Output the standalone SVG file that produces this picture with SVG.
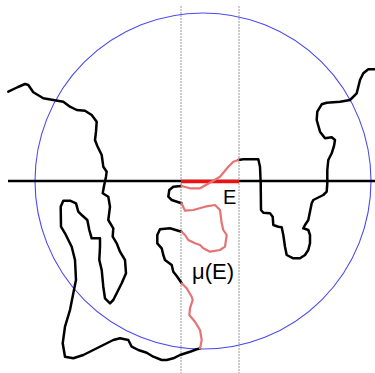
<svg xmlns="http://www.w3.org/2000/svg" width="375" height="373" viewBox="0 0 375 373">
<style>
.bk{fill:none;stroke:#000;stroke-width:2.5;stroke-linejoin:round;stroke-linecap:round}
.pk{fill:none;stroke:#e57373;stroke-width:2.2;stroke-linejoin:round;stroke-linecap:round}
.dash{stroke:#999;stroke-width:1;stroke-dasharray:2 1}
.lbl{font-family:"Liberation Sans",Arial,sans-serif;font-size:20px;fill:#000}
</style>
<rect width="375" height="373" fill="#fff"/>
<g id="circle"><circle cx="203" cy="181" r="168" fill="none" stroke="#4a4af0" stroke-width="1.1"/></g>
<g id="strip">
<line class="dash" x1="181" y1="6" x2="181" y2="373"/>
<line class="dash" x1="239" y1="6" x2="239" y2="373"/>
</g>
<g id="axis">
<line x1="8" y1="181" x2="375" y2="181" stroke="#000" stroke-width="2.5"/>
</g>
<g id="curve">
<path class="bk" d="M8.3,91.7 L18,87 L25,84 L28.3,85 L33.3,92.3 L43.3,98.3 L53.3,100 L63.3,101.7 L70,106.7 L76.7,110 L85,110.7 L91.7,115 L96.7,121.7 L96,131.7 L95,140 L97.3,146 L101.7,155 L103.3,166.7 L106.7,171.7 L106,176.7 L104,186 L102.7,193.3 L108.3,196.7 L110,206.7 L108.3,220 L113.3,228.3 L112.7,236.7 L116.7,243.3 L120,251.7 L125,260 L126,273.3 L121.7,283.3 L113.3,300 L110,303.3 L105,298.3 L103.3,286.7 L101.7,270 L99.3,260 L100,246.7 L100,238.3 L91.7,238.3 L89.3,230 L87.3,220 L81.7,215 L78.3,211.7 L76,203.3 L70,200.7 L63.3,200.7 L60.7,206.7 L61,226.7 L65,233.3 L71.7,246.7 L75,260 L76,280 L73.3,293.3 L70,310 L65,326.7 L62.7,343.3 L65,356.7 L73.3,358.3 L83.3,355 L93.3,350 L103.3,345 L113.3,340 L120,338.3 L128.3,340 L131.7,346.7 L138.3,350 L146.7,352.7 L153.3,356.7 L161.7,360 L166.7,360 L173.3,358.3 L180,355 L190,351.7 L196.7,349.3 L200,348.5"/>
<path class="bk" d="M181.5,186 L173.3,186.7 L169.3,190 L168.3,196.7 L171.7,200 L181.5,203.3"/>
<path class="bk" d="M181.5,231.7 L170,228.3 L160,229.3 L157.3,235 L157.3,243.3 L161.7,248.3 L163.3,255 L165,260 L171.7,265 L173.3,271.7 L176.7,276 L180,280.7 L181.7,283.3"/>
<path class="bk" d="M238.3,160 L243.3,159.3 L258.3,159.3 L260,166.7 L260.7,183.3 L261,210 L263.3,212.7 L270,213.3 L272.7,216.7 L273.3,225 L278.3,226.7 L281.7,227.3 L283.3,235 L285,246.7 L286.7,255 L293.3,258.3 L300,258.3 L305,255 L308.3,250 L310,243.3 L310,235 L308.3,230 L303.3,228.3 L305,225 L308.3,220 L311.7,203.3 L313.3,200 L323.3,195 L326.7,191.7 L327.3,183.3 L327.3,170 L328.3,160 L331.7,153.3 L334,146 L335,140 L331.7,137.3 L325,138.3 L320,131.7 L316.7,120 L317.3,111.7 L321.7,104.3 L326.7,102.7 L340,101.7 L350,100 L356.7,93.3 L360,80 L363.3,73.3 L368.3,69.3 L375,69.3"/>
</g>
<g id="E-set">
<line x1="181" y1="181.5" x2="239" y2="181.5" stroke="#ee1111" stroke-width="3.5"/>
<path class="pk" d="M181.5,186 L190,188.3 L200,188.3 L211.7,181.7 L220,176.7 L228.3,166.7 L233.3,161.7 L238.3,160"/>
<path class="pk" d="M181.5,203.3 L185,210.7 L193.3,210 L205,206.7 L215,205 L220,210 L221.7,223.3 L223.3,230 L226.7,235 L225,246.7 L220,250 L210,251.7 L203.3,248.3 L200,245 L195,243.3 L188.3,240 L185,235 L181.5,231.7"/>
<path class="pk" d="M181.7,283.3 L186.7,288.3 L191.7,296.7 L192.7,300 L190,308.3 L189.3,315 L195,321.7 L200,330 L201.7,340 L200,348.5"/>
</g>
<g id="labels">
<text class="lbl" x="223" y="204">E</text>
<text class="lbl" x="192" y="279" style="font-size:22px">μ(E)</text>
</g>
</svg>
